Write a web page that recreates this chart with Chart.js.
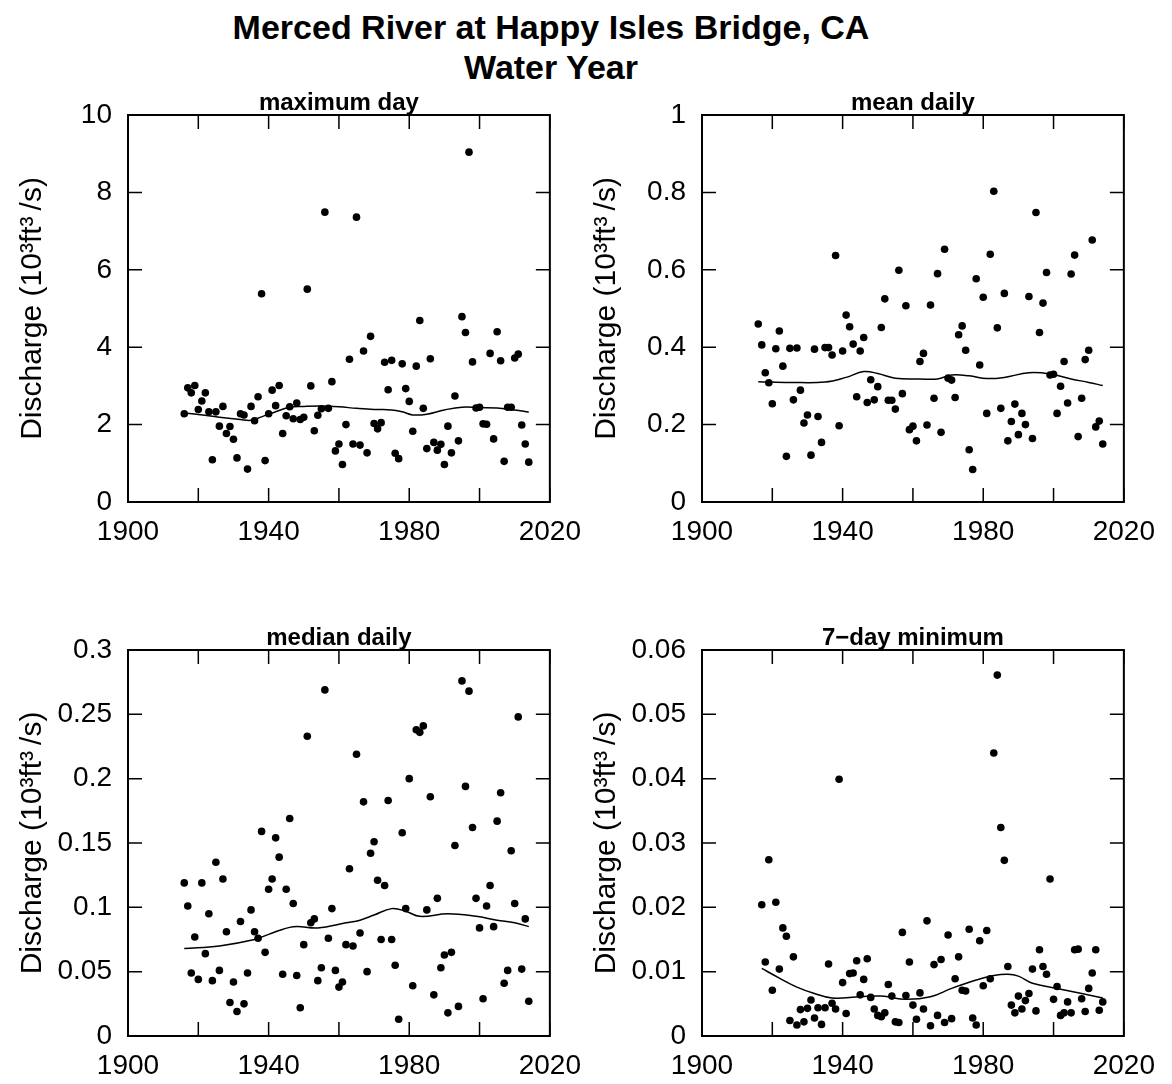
<!DOCTYPE html>
<html>
<head>
<meta charset="utf-8">
<script src="https://cdn.jsdelivr.net/npm/chart.js@4.4.1/dist/chart.umd.min.js"></script>
<style>
    body { margin: 0; background: #fff; }
    #page { position: relative; width: 1172px; height: 1084px; overflow: hidden; font-family: "Liberation Sans", Arial, sans-serif; }
    #title { position: absolute; left: 0; top: 7px; width: 1102px; text-align: center; font-weight: bold; font-size: 34px; line-height: 40px; }
    .panel { position: absolute; }
</style>
</head>
<body>
<div id="page">
    <div id="title">Merced River at Happy Isles Bridge, CA<br>Water Year</div>
    <canvas class="panel" id="c-max" width="594" height="469" style="left:0;top:81px"></canvas>
    <canvas class="panel" id="c-mean" width="594" height="469" style="left:574px;top:81px"></canvas>
    <canvas class="panel" id="c-median" width="594" height="468" style="left:0;top:616px"></canvas>
    <canvas class="panel" id="c-min7" width="594" height="468" style="left:574px;top:616px"></canvas>
</div>
<script>
// water years 1916-2014; 7-day minimum starts one year later
const waterYears = [1916, 1917, 1918, 1919, 1920, 1921, 1922, 1923, 1924, 1925,
    1926, 1927, 1928, 1929, 1930, 1931, 1932, 1933, 1934, 1935,
    1936, 1937, 1938, 1939, 1940, 1941, 1942, 1943, 1944, 1945,
    1946, 1947, 1948, 1949, 1950, 1951, 1952, 1953, 1954, 1955,
    1956, 1957, 1958, 1959, 1960, 1961, 1962, 1963, 1964, 1965,
    1966, 1967, 1968, 1969, 1970, 1971, 1972, 1973, 1974, 1975,
    1976, 1977, 1978, 1979, 1980, 1981, 1982, 1983, 1984, 1985,
    1986, 1987, 1988, 1989, 1990, 1991, 1992, 1993, 1994, 1995,
    1996, 1997, 1998, 1999, 2000, 2001, 2002, 2003, 2004, 2005,
    2006, 2007, 2008, 2009, 2010, 2011, 2012, 2013, 2014];
const min7Years = waterYears.slice(1);

// discharge, 10^3 ft3/s
const maxDay = [2.28, 2.95, 2.82, 3.01, 2.39, 2.61, 2.82, 2.33, 1.09, 2.33,
    1.96, 2.47, 1.77, 1.95, 1.62, 1.14, 2.28, 2.25, 0.85, 2.47,
    2.10, 2.72, 5.38, 1.07, 2.28, 2.89, 2.49, 3.01, 1.77, 2.23,
    2.46, 2.15, 2.56, 2.13, 2.19, 5.50, 3.00, 1.84, 2.24, 2.41,
    7.49, 2.42, 3.11, 1.32, 1.50, 0.97, 2.00, 3.69, 1.50, 7.36,
    1.47, 3.90, 1.27, 4.28, 2.03, 1.89, 2.05, 3.61, 2.90, 3.66,
    1.26, 1.12, 3.57, 2.93, 2.60, 1.83, 3.51, 4.69, 2.42, 1.38,
    3.70, 1.54, 1.34, 1.49, 0.97, 1.96, 1.27, 2.74, 1.58, 4.79,
    4.38, 9.04, 3.62, 2.43, 2.45, 2.02, 2.01, 3.84, 1.63, 4.40,
    3.65, 1.05, 2.45, 2.45, 3.72, 3.82, 1.99, 1.50, 1.03];

const meanDaily = [0.460, 0.406, 0.334, 0.308, 0.254, 0.396, 0.442, 0.351, 0.118, 0.397,
    0.264, 0.398, 0.289, 0.204, 0.225, 0.121, 0.395, 0.221, 0.154, 0.399,
    0.399, 0.380, 0.637, 0.197, 0.390, 0.483, 0.453, 0.408, 0.272, 0.390,
    0.425, 0.257, 0.316, 0.264, 0.298, 0.451, 0.525, 0.263, 0.263, 0.240,
    0.599, 0.280, 0.507, 0.187, 0.196, 0.158, 0.363, 0.384, 0.199, 0.509,
    0.268, 0.590, 0.180, 0.653, 0.320, 0.315, 0.270, 0.432, 0.455, 0.392,
    0.135, 0.084, 0.577, 0.354, 0.529, 0.229, 0.640, 0.803, 0.450, 0.242,
    0.539, 0.158, 0.208, 0.253, 0.174, 0.229, 0.200, 0.531, 0.164, 0.748,
    0.438, 0.514, 0.593, 0.328, 0.330, 0.229, 0.299, 0.363, 0.256, 0.589,
    0.638, 0.169, 0.268, 0.368, 0.392, 0.677, 0.194, 0.209, 0.150];

const medianDaily = [0.119, 0.101, 0.049, 0.077, 0.044, 0.119, 0.064, 0.095, 0.043, 0.135,
    0.051, 0.122, 0.081, 0.026, 0.042, 0.019, 0.089, 0.025, 0.049, 0.098,
    0.081, 0.076, 0.159, 0.065, 0.114, 0.122, 0.154, 0.139, 0.048, 0.114,
    0.169, 0.103, 0.047, 0.022, 0.071, 0.233, 0.088, 0.091, 0.043, 0.053,
    0.269, 0.076, 0.099, 0.051, 0.038, 0.042, 0.071, 0.130, 0.070, 0.219,
    0.080, 0.182, 0.050, 0.142, 0.151, 0.121, 0.075, 0.117, 0.183, 0.075,
    0.055, 0.013, 0.158, 0.099, 0.200, 0.039, 0.238, 0.236, 0.241, 0.098,
    0.186, 0.032, 0.107, 0.053, 0.063, 0.018, 0.065, 0.148, 0.023, 0.276,
    0.194, 0.268, 0.162, 0.107, 0.084, 0.029, 0.101, 0.117, 0.085, 0.167,
    0.189, 0.041, 0.051, 0.144, 0.103, 0.248, 0.052, 0.091, 0.027];

const min7Day = [0.0204, 0.0115, 0.0274, 0.0071, 0.0208, 0.0104, 0.0168, 0.0155, 0.0024, 0.0123,
    0.0017, 0.0041, 0.0022, 0.0043, 0.0056, 0.0028, 0.0044, 0.0018, 0.0044, 0.0112,
    0.0051, 0.0042, 0.0399, 0.0083, 0.0035, 0.0097, 0.0098, 0.0117, 0.0064, 0.0088,
    0.0120, 0.0060, 0.0042, 0.0032, 0.0030, 0.0036, 0.0080, 0.0062, 0.0022, 0.0021,
    0.0161, 0.0063, 0.0115, 0.0048, 0.0026, 0.0067, 0.0042, 0.0179, 0.0016, 0.0111,
    0.0032, 0.0119, 0.0021, 0.0157, 0.0027, 0.0089, 0.0123, 0.0071, 0.0070, 0.0166,
    0.0028, 0.0017, 0.0148, 0.0078, 0.0164, 0.0089, 0.0440, 0.0561, 0.0324, 0.0273,
    0.0108, 0.0048, 0.0036, 0.0062, 0.0042, 0.0055, 0.0066, 0.0104, 0.0039, 0.0134,
    0.0108, 0.0096, 0.0244, 0.0057, 0.0077, 0.0032, 0.0036, 0.0053, 0.0036, 0.0134,
    0.0135, 0.0058, 0.0038, 0.0074, 0.0098, 0.0134, 0.0040, 0.0053];

// smooth (loess-like) trend lines
const smoothMaxYears = [1916, 1920, 1926, 1932, 1935, 1938, 1942, 1946, 1950, 1955, 1960, 1965, 1970, 1975, 1978, 1981, 1985, 1990, 1995, 2000, 2005, 2010, 2014];
const smoothMax = [2.30, 2.26, 2.19, 2.13, 2.11, 2.20, 2.33, 2.45, 2.47, 2.48, 2.46, 2.42, 2.39, 2.38, 2.33, 2.25, 2.27, 2.38, 2.45, 2.44, 2.43, 2.38, 2.32];
const smoothMeanYears = [1916, 1925, 1935, 1941, 1946, 1950, 1955, 1962, 1967, 1971, 1976, 1981, 1986, 1993, 1999, 2005, 2010, 2014];
const smoothMean = [0.311, 0.309, 0.310, 0.322, 0.337, 0.332, 0.320, 0.318, 0.318, 0.328, 0.326, 0.319, 0.322, 0.334, 0.331, 0.318, 0.309, 0.301];
const smoothMedianYears = [1916, 1926, 1936, 1940, 1947, 1954, 1962, 1966, 1970, 1975, 1979, 1983, 1991, 1999, 2005, 2010, 2014];
const smoothMedian = [0.068, 0.070, 0.075, 0.079, 0.085, 0.084, 0.088, 0.090, 0.094, 0.099, 0.097, 0.093, 0.095, 0.093, 0.090, 0.088, 0.085];
const smoothMin7Years = [1917, 1922, 1927, 1932, 1937, 1945, 1951, 1958, 1965, 1971, 1978, 1983, 1987, 1990, 1994, 2001, 2008, 2014];
const smoothMin7 = [0.0105, 0.0090, 0.0076, 0.0066, 0.0059, 0.0061, 0.0062, 0.0057, 0.0061, 0.0074, 0.0087, 0.0094, 0.0096, 0.0093, 0.0082, 0.0074, 0.0066, 0.0059];

const yTitle = 'Discharge (10\u00B3ft\u00B3\u2009/s)';
const fontFamily = '"Liberation Sans", Arial, Helvetica, sans-serif';

// box with inward ticks on all four sides, plus the panel title centred over the plot
const boxPlugin = {
    id: 'box',
    afterDatasetsDraw(chart, args, opts) {
        const { ctx, chartArea: a, scales: { x, y } } = chart;
        const tl = 14;
        ctx.save();
        ctx.strokeStyle = '#000';
        ctx.lineWidth = 1.5;
        ctx.beginPath();
        x.ticks.forEach(t => {
            const px = x.getPixelForValue(t.value);
            ctx.moveTo(px, a.bottom); ctx.lineTo(px, a.bottom - tl);
            ctx.moveTo(px, a.top); ctx.lineTo(px, a.top + tl);
        });
        y.ticks.forEach(t => {
            const py = y.getPixelForValue(t.value);
            ctx.moveTo(a.left, py); ctx.lineTo(a.left + tl, py);
            ctx.moveTo(a.right, py); ctx.lineTo(a.right - tl, py);
        });
        ctx.stroke();
        ctx.lineWidth = 2;
        ctx.strokeRect(a.left, a.top, a.right - a.left, a.bottom - a.top);

        ctx.fillStyle = '#000';
        ctx.font = 'bold 24px ' + fontFamily;
        ctx.textAlign = 'center';
        ctx.textBaseline = 'alphabetic';
        ctx.fillText(opts.text, (a.left + a.right) / 2, a.top - 5);
        ctx.restore();
    }
};

function toPoints(xs, ys) {
    return xs.map((v, i) => ({ x: v, y: ys[i] }));
}

function makePanel(id, title, years, values, sYears, sValues, yMax, yStep) {
    new Chart(document.getElementById(id), {
        type: 'scatter',
        data: {
            datasets: [{
                data: toPoints(years, values),
                pointRadius: 3.8,
                pointBackgroundColor: '#000',
                pointBorderWidth: 0
            }, {
                type: 'line',
                data: toPoints(sYears, sValues),
                borderColor: '#000',
                borderWidth: 1.5,
                pointRadius: 0,
                tension: 0.4,
                fill: false
            }]
        },
        options: {
            responsive: false,
            animation: false,
            events: [],
            // right/top padding also covers the tick label overflow Chart.js reserves
            layout: { padding: { left: 0, right: 44, top: 34, bottom: 0 } },
            plugins: {
                legend: { display: false },
                tooltip: { enabled: false },
                title: { display: false },
                box: { text: title }
            },
            scales: {
                x: {
                    type: 'linear',
                    min: 1900,
                    max: 2020,
                    grid: { display: false, drawTicks: false },
                    border: { display: false },
                    ticks: {
                        stepSize: 20,
                        autoSkip: false,
                        maxRotation: 0,
                        padding: 13,
                        color: '#000',
                        font: { family: fontFamily, size: 28 },
                        callback: v => ((v - 1900) % 40 === 0 ? String(v) : '')
                    },
                    afterFit: s => { s.height = 48; }
                },
                y: {
                    min: 0,
                    max: yMax,
                    grid: { display: false, drawTicks: false },
                    border: { display: false },
                    ticks: {
                        stepSize: yStep,
                        autoSkip: false,
                        padding: 16,
                        color: '#000',
                        font: { family: fontFamily, size: 28 },
                        callback: v => String(+v.toFixed(3))
                    },
                    title: {
                        display: true,
                        text: yTitle,
                        color: '#000',
                        font: { family: fontFamily, size: 30 },
                        padding: { top: 15, bottom: 0 }
                    },
                    afterFit: s => { s.width = 128; }
                }
            }
        },
        plugins: [boxPlugin]
    });
}

makePanel('c-max', 'maximum day', waterYears, maxDay, smoothMaxYears, smoothMax, 10, 2);
makePanel('c-mean', 'mean daily', waterYears, meanDaily, smoothMeanYears, smoothMean, 1, 0.2);
makePanel('c-median', 'median daily', waterYears, medianDaily, smoothMedianYears, smoothMedian, 0.3, 0.05);
makePanel('c-min7', '7\u2212day minimum', min7Years, min7Day, smoothMin7Years, smoothMin7, 0.06, 0.01);
</script>
</body>
</html>
